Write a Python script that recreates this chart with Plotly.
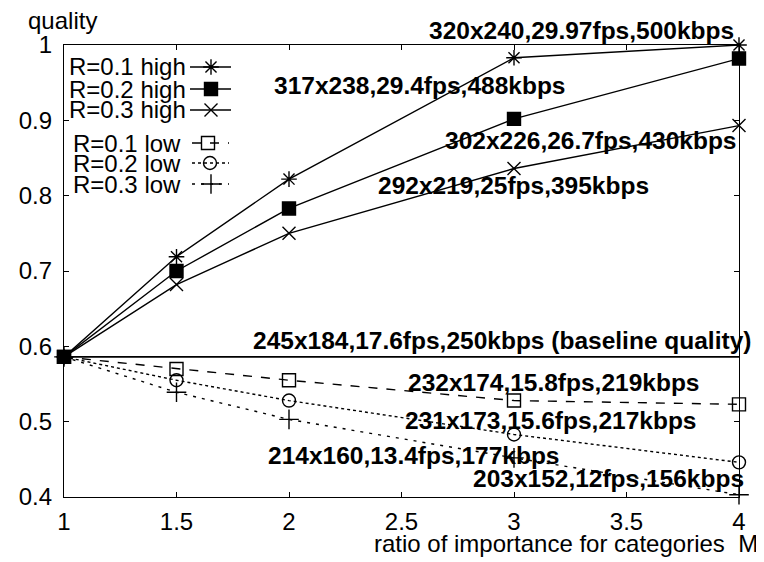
import plotly.graph_objects as go

# ---- data ----
M = [1, 1.5, 2, 3, 4]
high_r01 = [0.586, 0.719, 0.822, 0.983, 1.000]
high_r02 = [0.586, 0.700, 0.783, 0.902, 0.982]
high_r03 = [0.586, 0.682, 0.750, 0.836, 0.893]
low_r01 = [0.586, 0.570, 0.555, 0.528, 0.523]
low_r02 = [0.586, 0.555, 0.528, 0.483, 0.446]
low_r03 = [0.586, 0.539, 0.503, 0.452, 0.403]
baseline_x = [1, 4]
baseline_q = [0.586, 0.586]

series_names = ["R=0.1 high", "R=0.2 high", "R=0.3 high",
                "R=0.1 low", "R=0.2 low", "R=0.3 low"]
x_ticks = [1, 1.5, 2, 2.5, 3, 3.5, 4]
x_ticklabels = ["1", "1.5", "2", "2.5", "3", "3.5", "4"]
y_ticks = [0.4, 0.5, 0.6, 0.7, 0.8, 0.9, 1.0]
y_ticklabels = ["0.4", "0.5", "0.6", "0.7", "0.8", "0.9", "1"]

point_labels = [
    "320x240,29.97fps,500kbps",
    "317x238,29.4fps,488kbps",
    "302x226,26.7fps,430kbps",
    "292x219,25fps,395kbps",
    "245x184,17.6fps,250kbps (baseline quality)",
    "232x174,15.8fps,219kbps",
    "231x173,15.6fps,217kbps",
    "214x160,13.4fps,177kbps",
    "203x152,12fps,156kbps",
]

# ---- layout helpers (window pixel -> paper); page body has an 8px margin ----
OFF = 8
W, H = 764 - OFF, 562 - OFF
PLOT_L, PLOT_R, PLOT_T, PLOT_B = 64, 739, 45, 497   # in window pixels
L = PLOT_L - OFF
T = PLOT_T - OFF
R = (W + OFF) - PLOT_R
B = (H + OFF) - PLOT_B
PW, PH = PLOT_R - PLOT_L, PLOT_B - PLOT_T


def px(x):
    return (x - PLOT_L) / PW


def py(y):
    return (PLOT_B - y) / PH


FONT = "Liberation Sans, Arial, sans-serif"
LW = 1.4
FS = 24       # regular text
FSB = 24.5    # bold point labels

styles = [
    dict(symbol="asterisk-open", size=13, dash="solid"),
    dict(symbol="square", size=13, dash="solid"),
    dict(symbol="x-thin-open", size=13, dash="solid"),
    dict(symbol="square-open", size=13, dash="dash"),
    dict(symbol="circle-open", size=13, dash="dot"),
    dict(symbol="cross-thin-open", size=14, dash="3px,6px"),
]
all_series = [high_r01, high_r02, high_r03, low_r01, low_r02, low_r03]

fig = go.Figure()

# baseline line
fig.add_trace(go.Scatter(x=baseline_x, y=baseline_q, mode="lines",
                         line=dict(color="black", width=1.6),
                         showlegend=False, hoverinfo="skip"))

for vals, st, name in zip(all_series, styles, series_names):
    fig.add_trace(go.Scatter(
        x=M, y=vals, mode="lines+markers", name=name, showlegend=False,
        line=dict(color="black", width=LW, dash=st["dash"]),
        marker=dict(symbol=st["symbol"], size=st["size"], color="black",
                    line=dict(color="black", width=1.4)),
        cliponaxis=False,
    ))

# ---- custom legend (text left of sample, gnuplot style) ----
legend_rows = [
    (67, 188, 190, 231, 211),
    (89, 188, 190, 231, 211),
    (110, 188, 190, 231, 211),
    (143, 183, 192, 229, 208),
    (163, 183, 192, 229, 210),
    (184, 183, 192, 229, 211),
]
annotations = []
for (yy, tx, x0, x1, xm), st, name in zip(legend_rows, styles, series_names):
    annotations.append(dict(
        x=px(tx), y=py(yy), xref="paper", yref="paper", text=name,
        showarrow=False, xanchor="right", yanchor="middle",
        font=dict(family=FONT, size=FS, color="black")))
    fig.add_trace(go.Scatter(
        x=[px(x0), px(x1)], y=[py(yy), py(yy)], mode="lines",
        line=dict(color="black", width=LW, dash=st["dash"]),
        xaxis="x2", yaxis="y2", showlegend=False, hoverinfo="skip"))
    fig.add_trace(go.Scatter(
        x=[px(xm)], y=[py(yy)], mode="markers",
        marker=dict(symbol=st["symbol"], size=st["size"], color="black",
                    line=dict(color="black", width=1.4)),
        xaxis="x2", yaxis="y2", showlegend=False, hoverinfo="skip"))

# ---- point annotations ----
label_pos = [
    (736, 30, "right"),
    (272, 85, "left"),
    (739, 140, "right"),
    (376, 185, "left"),
    (753, 340, "right"),
    (406, 382, "left"),
    (403, 420, "left"),
    (266, 455, "left"),
    (746, 478, "right"),
]
for txt, (xx, yy, anc) in zip(point_labels, label_pos):
    annotations.append(dict(
        x=px(xx), y=py(yy), xref="paper", yref="paper", text="<b>%s</b>" % txt,
        showarrow=False, xanchor=anc, yanchor="middle",
        font=dict(family=FONT, size=FSB, color="black")))

# axis titles
annotations.append(dict(x=px(26), y=py(20), xref="paper", yref="paper",
                        text="quality", showarrow=False, xanchor="left",
                        yanchor="middle",
                        font=dict(family=FONT, size=FS, color="black")))
annotations.append(dict(x=px(760), y=py(543), xref="paper", yref="paper",
                        text="ratio of importance for categories  M",
                        showarrow=False, xanchor="right", yanchor="middle",
                        font=dict(family=FONT, size=FS, color="black")))

axis_common = dict(showgrid=False, zeroline=False, showline=True,
                   linecolor="black", linewidth=1.4, mirror="ticks",
                   ticks="inside", ticklen=5, tickwidth=1.2, tickcolor="black",
                   tickfont=dict(family=FONT, size=FS, color="black"),
                   automargin=False)

fig.update_layout(
    width=W, height=H,
    margin=dict(l=L, r=R, t=T, b=B),
    paper_bgcolor="white", plot_bgcolor="white",
    showlegend=False,
    xaxis=dict(range=[1, 4], tickvals=x_ticks, ticktext=x_ticklabels,
               ticklabelstandoff=3, **axis_common),
    yaxis=dict(range=[0.4, 1.0], tickvals=y_ticks, ticktext=y_ticklabels,
               ticklabelstandoff=6, **axis_common),
    xaxis2=dict(range=[0, 1], overlaying="x", visible=False),
    yaxis2=dict(range=[0, 1], overlaying="y", visible=False),
    annotations=annotations,
)

fig.write_html("out.html")
